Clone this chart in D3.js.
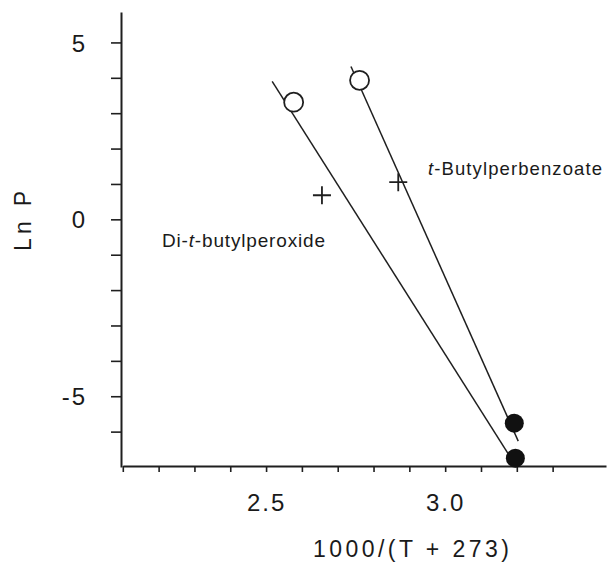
<!DOCTYPE html>
<html>
<head>
<meta charset="utf-8">
<script src="https://cdn.jsdelivr.net/npm/d3@7"></script>
<style>
	body { margin: 0; background: #fff; }
	svg { display: block; }
	text { font-family: 'Liberation Sans', Arial, Helvetica, sans-serif; fill: #1a1a1a; }
</style>
</head>
<body>
<svg id="chart" width="607" height="562"></svg>
<script>
// values
var openX = [2.577, 2.761];
var openY = [3.31, 3.93];
var plusX = [2.656, 2.869];
var plusY = [0.68, 1.05];
var filledX = [3.193, 3.196];
var filledY = [-5.76, -6.75];

// fitted lines, two end points each
var perbenzoateX = [2.737, 3.204];
var perbenzoateY = [4.32, -6.27];
var peroxideX = [2.517, 3.19];
var peroxideY = [3.90, -6.85];

var xTicks = d3.range(21, 34).map(d => d / 10);
var xLabels = [2.5, 3.0];
var yTicks = d3.range(-6, 6);
var yLabels = [5, 0, -5];

var ink = '#1f1f1f';
var svg = d3.select('#chart');

var x = d3.scaleLinear().domain([2.1, 3.449]).range([122.8, 606]);
var y = d3.scaleLinear().domain([-7, 5.86]).range([467, 12]);

// y axis, ticks on the left
var yAxis = svg.append('g')
	.attr('transform', 'translate(121,0)')
	.call(d3.axisLeft(y)
		.tickValues(yTicks)
		.tickSize(10)
		.tickSizeOuter(0)
		.tickPadding(24)
		.tickFormat(d => yLabels.indexOf(d) >= 0 ? d : ''));

// x axis, ticks below
var xAxis = svg.append('g')
	.attr('transform', 'translate(0,466)')
	.call(d3.axisBottom(x)
		.tickValues(xTicks)
		.tickSize(6)
		.tickSizeOuter(0)
		.tickPadding(22)
		.tickFormat(d => xLabels.some(v => Math.abs(v - d) < 1e-9) ? d3.format('.1f')(d) : ''));

svg.selectAll('.domain')
	.attr('stroke', ink)
	.attr('stroke-width', 2);
svg.selectAll('.tick line')
	.attr('stroke', ink)
	.attr('stroke-width', 1.6);
svg.selectAll('.tick text')
	.attr('fill', ink)
	.attr('font-size', 24)
	.attr('letter-spacing', 2);
yAxis.selectAll('.tick text').attr('dy', '0.36em');

// axis titles
svg.append('text')
	.attr('x', 411)
	.attr('y', 557)
	.attr('text-anchor', 'middle')
	.attr('font-size', 23)
	.attr('textLength', 196)
	.attr('lengthAdjust', 'spacing')
	.text('1000/(T + 273)');

svg.append('text')
	.attr('transform', 'translate(31,221) rotate(-90)')
	.attr('text-anchor', 'middle')
	.attr('font-size', 23)
	.attr('textLength', 60)
	.attr('lengthAdjust', 'spacing')
	.text('Ln P');

// fitted lines
var line = d3.line()
	.x(d => x(d[0]))
	.y(d => y(d[1]));

[d3.zip(peroxideX, peroxideY), d3.zip(perbenzoateX, perbenzoateY)].forEach(function(pts) {
	svg.append('path')
		.attr('d', line(pts))
		.attr('fill', 'none')
		.attr('stroke', ink)
		.attr('stroke-width', 1.5);
});

// open circles
svg.selectAll('circle.open')
	.data(d3.zip(openX, openY))
	.enter()
	.append('circle')
	.attr('class', 'open')
	.attr('cx', d => x(d[0]))
	.attr('cy', d => y(d[1]))
	.attr('r', 9.5)
	.attr('fill', '#fff')
	.attr('stroke', ink)
	.attr('stroke-width', 1.8);

// filled circles
svg.selectAll('circle.filled')
	.data(d3.zip(filledX, filledY))
	.enter()
	.append('circle')
	.attr('class', 'filled')
	.attr('cx', d => x(d[0]))
	.attr('cy', d => y(d[1]))
	.attr('r', 9.5)
	.attr('fill', '#111');

// plus markers
svg.selectAll('path.plus')
	.data(d3.zip(plusX, plusY))
	.enter()
	.append('path')
	.attr('class', 'plus')
	.attr('transform', d => 'translate(' + x(d[0]) + ',' + y(d[1]) + ')')
	.attr('d', 'M-9,0H9M0,-9V9')
	.attr('stroke', ink)
	.attr('stroke-width', 1.8);

// series labels
var lbl1 = svg.append('text')
	.attr('x', 428)
	.attr('y', 175)
	.attr('font-size', 18.5)
	.attr('textLength', 174)
	.attr('lengthAdjust', 'spacing');
lbl1.append('tspan').attr('font-style', 'italic').text('t');
lbl1.append('tspan').text('-Butylperbenzoate');

var lbl2 = svg.append('text')
	.attr('x', 162)
	.attr('y', 247)
	.attr('font-size', 19)
	.attr('textLength', 163)
	.attr('lengthAdjust', 'spacing');
lbl2.append('tspan').text('Di-');
lbl2.append('tspan').attr('font-style', 'italic').text('t');
lbl2.append('tspan').text('-butylperoxide');
</script>
</body>
</html>
